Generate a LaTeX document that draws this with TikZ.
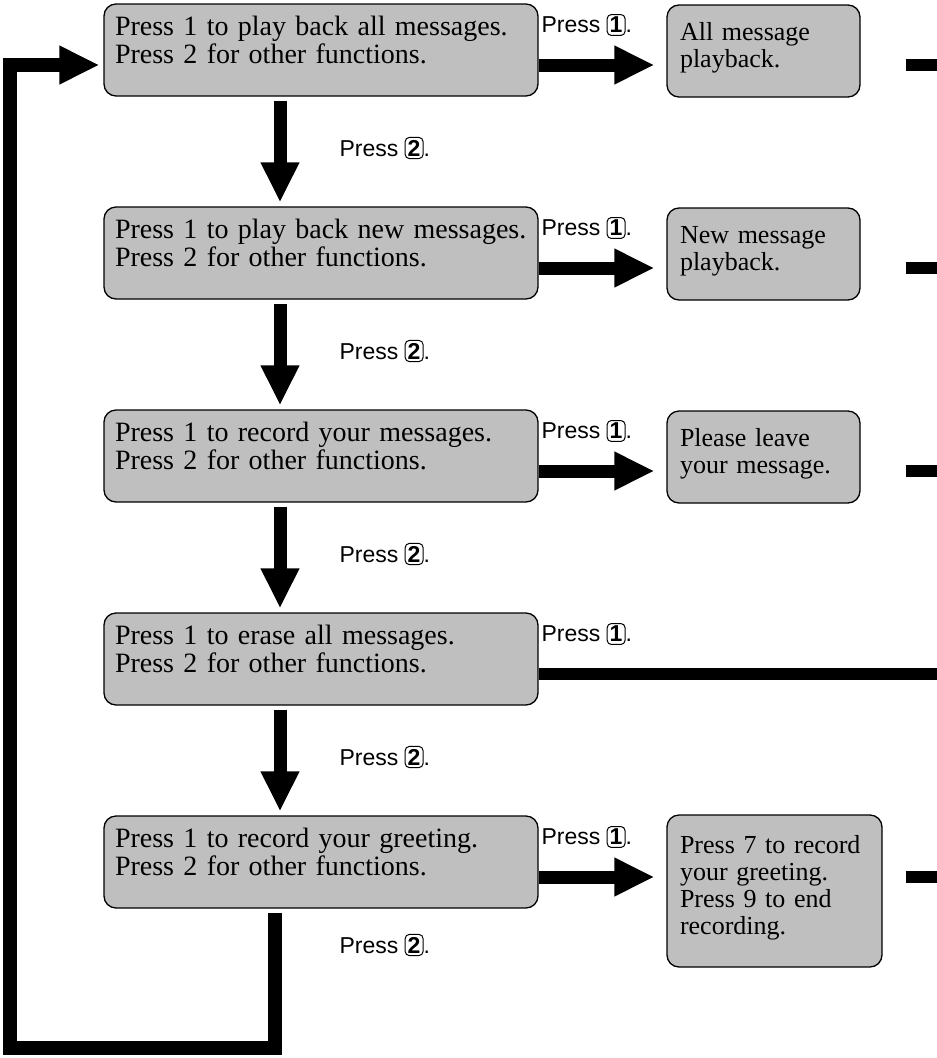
\documentclass[tikz,border=0pt]{standalone}
\usepackage{fontspec}
\setmainfont{Liberation Serif}
\setsansfont{Liberation Sans}
\usetikzlibrary{arrows.meta}

\newcommand{\boxfont}{\fontsize{28}{28}\selectfont\spaceskip=11pt plus 2pt minus 2pt}
\newcommand{\replyfont}{\fontsize{26}{27}\selectfont}
\newcommand{\keyfont}{\fontsize{23}{26}\selectfont\sffamily}
\newcommand{\presskey}[1]{\tikz[baseline=(k.base)]\node[draw,line width=1pt,rounded corners=4pt,inner sep=2.5pt,font=\keyfont\bfseries] (k) {#1};}

\begin{document}
\begin{tikzpicture}[x=1pt,y=-1pt,
  menu/.style={draw,line width=1.3pt,rounded corners=12pt,fill=black!25,text width=412pt,inner xsep=11pt,inner ysep=0pt,minimum height=92pt,align=left,font=\boxfont,execute at end node={\rule[-20pt]{0pt}{0pt}}},
  reply/.style={draw,line width=1.3pt,rounded corners=12pt,fill=black!25,text width=167pt,inner xsep=13pt,inner ysep=0pt,minimum height=92pt,align=left,font=\replyfont,execute at end node={\rule[-12pt]{0pt}{0pt}}},
  lbl/.style={font=\keyfont,anchor=west},
  fat/.style={line width=13pt,-{Triangle[length=40pt,width=36pt]}},
  bar/.style={line width=12pt}]
\useasboundingbox (0,0) rectangle (937,1058);
% menu boxes
\node[menu] (m1) at (321,50) {Press 1 to play back all messages.\\Press 2 for other functions.};
\node[menu] (m2) at (321,253) {Press 1 to play back new messages.\\Press 2 for other functions.};
\node[menu] (m3) at (321,456) {Press 1 to record your messages.\\Press 2 for other functions.};
\node[menu] (m4) at (321,659) {Press 1 to erase all messages.\\Press 2 for other functions.};
\node[menu] (m5) at (321,862) {Press 1 to record your greeting.\\Press 2 for other functions.};
% what happens after 1
\node[reply] (r1) at (763.5,51) {All message\\playback.};
\node[reply] (r2) at (763.5,254) {New message\\playback.};
\node[reply] (r3) at (763.5,457) {Please leave\\your message.};
\node[reply,minimum height=152pt,text width=189pt] (r5) at (774.5,891) {Press 7 to record\\your greeting.\\Press 9 to end\\recording.};
% key labels
\node[lbl] (k1) at (538,25) {Press \presskey{1}.};
\node[lbl] (k2) at (538,228) {Press \presskey{1}.};
\node[lbl] (k3) at (538,431) {Press \presskey{1}.};
\node[lbl] (k4) at (538,634) {Press \presskey{1}.};
\node[lbl] (k5) at (538,837) {Press \presskey{1}.};
\node[lbl] (d1) at (336,148) {Press \presskey{2}.};
\node[lbl] (d2) at (336,351) {Press \presskey{2}.};
\node[lbl] (d3) at (336,554) {Press \presskey{2}.};
\node[lbl] (d4) at (336,757) {Press \presskey{2}.};
\node[lbl] (d5) at (336,945) {Press \presskey{2}.};
% arrows
\draw[fat] ([yshift=-15pt]m1.east) -- ([yshift=-14pt,xshift=-12pt]r1.west);
\draw[fat] ([yshift=-15pt]m2.east) -- ([yshift=-14pt,xshift=-12pt]r2.west);
\draw[fat] ([yshift=-15pt]m3.east) -- ([yshift=-14pt,xshift=-12pt]r3.west);
\draw[fat] ([yshift=-15pt]m5.east) -- ([yshift=-15pt,xshift=-12pt]m5.east-|r5.west);
\draw[fat] ([xshift=-41pt,yshift=-4pt]m1.south) -- ([xshift=-41pt,yshift=4pt]m2.north);
\draw[fat] ([xshift=-41pt,yshift=-4pt]m2.south) -- ([xshift=-41pt,yshift=4pt]m3.north);
\draw[fat] ([xshift=-41pt,yshift=-4pt]m3.south) -- ([xshift=-41pt,yshift=4pt]m4.north);
\draw[fat] ([xshift=-41pt,yshift=-4pt]m4.south) -- ([xshift=-41pt,yshift=4pt]m5.north);
% stubs going off to the right
\coordinate (e4) at (937,674);
\draw[bar] ([yshift=-15pt]m4.east) -- (e4);
\draw[bar] ([shift={(45,14)}]r1.east) -- ++(33,0);
\draw[bar] ([shift={(45,14)}]r2.east) -- ++(33,0);
\draw[bar] ([shift={(45,14)}]r3.east) -- ++(33,0);
\draw[bar] ([shift={(23,-14)}]r5.east) -- ++(33,0);
% back to the start
\coordinate (c1) at (10,1048);
\draw[line width=14pt,-{Triangle[length=40pt,width=36pt]}] ([xshift=-46pt,yshift=-4pt]m5.south) |- (c1) |- ([yshift=-15pt,xshift=-4pt]m1.west);
\end{tikzpicture}
\end{document}
